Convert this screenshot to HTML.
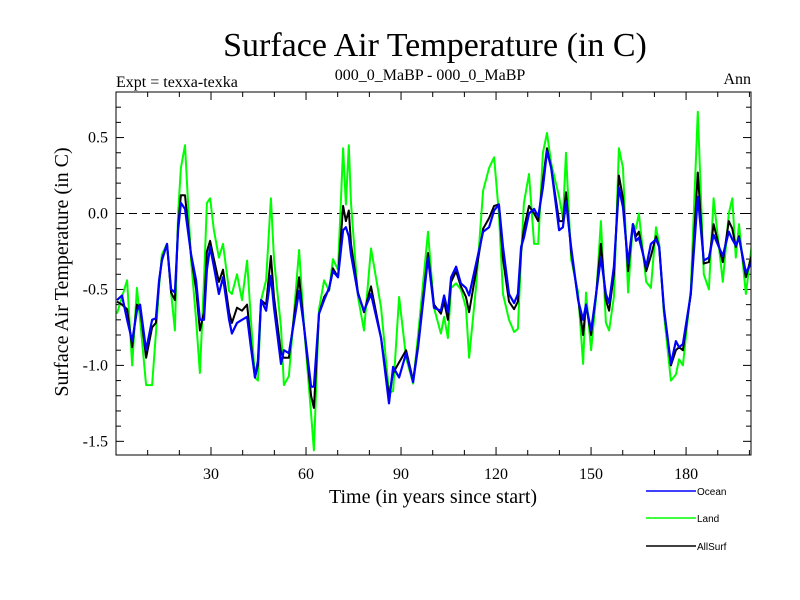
<!DOCTYPE html>
<html><head><meta charset="utf-8"><style>
body{margin:0;background:#fff}
svg{display:block}
text{font-family:"Liberation Serif",serif;fill:#000}
</style></head><body>
<svg id="chart" width="800" height="600" viewBox="0 0 800 600">
<text x="435" y="56" font-size="34" text-anchor="middle">Surface Air Temperature (in C)</text>
<text x="116" y="87" font-size="16">Expt = texxa-texka</text>
<text x="430" y="80" font-size="16" text-anchor="middle">000_0_MaBP - 000_0_MaBP</text>
<text x="751" y="84" font-size="16" text-anchor="end">Ann</text>
<text transform="translate(68,272) rotate(-90)" font-size="20" text-anchor="middle">Surface Air Temperature (in C)</text>
<text x="433" y="503" font-size="20" text-anchor="middle">Time (in years since start)</text>
<g id="axes"></g>
<g id="series"></g>
<rect x="116" y="92" width="635" height="363" fill="none" stroke="#000" stroke-width="1"/>
<g font-family="Liberation Sans" font-size="10">
<line x1="646" y1="491" x2="696" y2="491" stroke="#0000ff" stroke-width="1.5"/>
<text x="697" y="495" style="font-family:'Liberation Sans',sans-serif" font-size="10">Ocean</text>
<line x1="646" y1="518" x2="696" y2="518" stroke="#00ff00" stroke-width="1.5"/>
<text x="697" y="522" style="font-family:'Liberation Sans',sans-serif" font-size="10">Land</text>
<line x1="646" y1="546" x2="696" y2="546" stroke="#000" stroke-width="1.5"/>
<text x="697" y="550" style="font-family:'Liberation Sans',sans-serif" font-size="10">AllSurf</text>
</g>
</svg>
<script>
const years=[0.3,1.9,3.5,5.1,6.6,7.6,9.5,11.4,12.6,13.6,14.5,16.1,17.4,18.6,19.6,20.5,21.8,23.7,25.3,26.5,27.8,28.7,29.7,30.9,32.5,33.8,35.7,36.6,38.2,39.8,41.4,42.6,43.9,44.8,45.8,47.4,48.9,49.9,52.1,53.0,54.6,57.8,59.4,61.6,62.5,64.1,65.7,67.3,68.5,70.1,71.7,72.6,73.5,74.2,76.4,78.3,80.5,83.7,86.2,87.5,89.4,91.6,93.8,95.4,98.5,100.4,102.6,103.6,104.8,105.8,107.4,108.9,110.5,111.5,113.7,115.9,117.8,119.4,120.9,122.2,124.1,125.7,126.9,127.9,128.8,130.4,132,133.3,134.8,136.1,137.4,139.9,141.1,142.1,143.7,145.9,147.5,148.4,150,151.6,153.1,154.7,155.7,157.2,158.8,160.1,161.7,163.2,164.2,165.1,167.4,168.9,170.5,171.5,173,175.2,176.8,177.8,179,181.5,183.7,185.6,187.2,188.7,191.6,193.5,194.6,195.7,196.7,198.9,201];
const ocean=[-0.57,-0.54,-0.70,-0.84,-0.64,-0.6,-0.9,-0.7,-0.69,-0.44,-0.31,-0.2,-0.5,-0.52,-0.11,0.07,0.03,-0.27,-0.44,-0.7,-0.7,-0.37,-0.22,-0.35,-0.53,-0.42,-0.7,-0.79,-0.72,-0.7,-0.68,-0.88,-1.08,-0.97,-0.57,-0.64,-0.41,-0.62,-0.99,-0.9,-0.92,-0.51,-0.75,-1.14,-1.14,-0.66,-0.57,-0.49,-0.38,-0.42,-0.11,-0.09,-0.15,-0.27,-0.53,-0.64,-0.53,-0.82,-1.25,-1.01,-1.08,-0.92,-1.11,-0.88,-0.29,-0.62,-0.64,-0.54,-0.65,-0.42,-0.35,-0.46,-0.49,-0.54,-0.33,-0.12,-0.09,0.02,0.06,-0.22,-0.53,-0.59,-0.53,-0.22,-0.16,0.0,0.03,-0.02,0.17,0.41,0.3,-0.11,-0.09,0.08,-0.22,-0.57,-0.7,-0.6,-0.77,-0.53,-0.29,-0.53,-0.59,-0.35,0.17,0.04,-0.33,-0.07,-0.18,-0.16,-0.35,-0.2,-0.17,-0.22,-0.62,-0.99,-0.84,-0.88,-0.86,-0.53,0.11,-0.31,-0.29,-0.14,-0.28,-0.12,-0.17,-0.21,-0.16,-0.39,-0.31];
const land=[-0.66,-0.55,-0.44,-1.0,-0.49,-0.7,-1.13,-1.13,-0.79,-0.48,-0.27,-0.2,-0.52,-0.77,0.0,0.3,0.45,-0.31,-0.7,-1.05,-0.44,0.07,0.1,-0.11,-0.29,-0.2,-0.51,-0.53,-0.4,-0.57,-0.31,-0.7,-1.08,-1.1,-0.57,-0.44,0.1,-0.3,-0.75,-1.13,-1.07,-0.24,-0.75,-1.32,-1.56,-0.63,-0.44,-0.51,-0.3,-0.37,0.43,0.06,0.45,0.07,-0.55,-0.77,-0.23,-0.62,-1.18,-1.17,-0.55,-0.95,-1.12,-0.8,-0.12,-0.62,-0.79,-0.68,-0.82,-0.49,-0.46,-0.5,-0.62,-0.95,-0.48,0.15,0.3,0.37,0.0,-0.53,-0.7,-0.78,-0.76,-0.28,0.07,0.26,-0.2,-0.2,0.4,0.53,0.33,0.11,-0.03,0.4,-0.3,-0.52,-0.99,-0.52,-0.9,-0.55,-0.05,-0.72,-0.77,-0.55,0.43,0.3,-0.52,-0.07,-0.1,0.0,-0.45,-0.49,-0.09,-0.2,-0.66,-1.1,-1.06,-0.96,-1.0,-0.5,0.67,-0.4,-0.5,0.1,-0.45,0.0,0.1,-0.29,-0.07,-0.53,-0.16];
const allsurf=[-0.58,-0.6,-0.63,-0.88,-0.6,-0.62,-0.95,-0.75,-0.72,-0.45,-0.3,-0.2,-0.52,-0.57,-0.08,0.12,0.12,-0.28,-0.5,-0.77,-0.65,-0.25,-0.18,-0.3,-0.45,-0.37,-0.65,-0.72,-0.62,-0.64,-0.6,-0.85,-1.08,-1.0,-0.57,-0.6,-0.28,-0.55,-0.92,-0.95,-0.95,-0.42,-0.75,-1.2,-1.28,-0.66,-0.55,-0.5,-0.36,-0.42,0.05,-0.05,0.02,-0.2,-0.52,-0.65,-0.48,-0.82,-1.2,-1.05,-0.98,-0.9,-1.1,-0.86,-0.26,-0.6,-0.66,-0.58,-0.7,-0.45,-0.38,-0.48,-0.55,-0.65,-0.38,-0.1,-0.03,0.05,0.06,-0.3,-0.58,-0.63,-0.58,-0.25,-0.1,0.05,0.0,-0.05,0.22,0.43,0.3,-0.05,-0.05,0.14,-0.25,-0.56,-0.8,-0.6,-0.8,-0.53,-0.2,-0.57,-0.64,-0.4,0.25,0.1,-0.38,-0.07,-0.15,-0.12,-0.38,-0.28,-0.15,-0.22,-0.63,-1.0,-0.9,-0.88,-0.9,-0.53,0.27,-0.33,-0.32,-0.07,-0.32,-0.05,-0.1,-0.22,-0.15,-0.42,-0.25];
const xTickLabels=[30,60,90,120,150,180];
const yTickLabels=["0.5","0.0","-0.5","-1.0","-1.5"];
const yTickValues=[0.5,0,-0.5,-1.0,-1.5];

const X0=116,X1=751,Y0=92,Y1=455,XMIN=0,XMAX=200.5,YMIN=-1.59,YMAX=0.8;
const sx=v=>X0+(v-XMIN)/(XMAX-XMIN)*(X1-X0);
const sy=v=>Y1-(v-YMIN)/(YMAX-YMIN)*(Y1-Y0);
const NS="http://www.w3.org/2000/svg";
const axes=document.getElementById('axes'),ser=document.getElementById('series');
function mk(tag,attrs,parent){const e=document.createElementNS(NS,tag);for(const k in attrs)e.setAttribute(k,attrs[k]);parent.appendChild(e);return e;}
// x ticks
for(let t=10;t<XMAX;t+=10){const major=t%30===0;const L=major?8:5;const x=sx(t);
const a=mk('line',{x1:x,x2:x,y1:Y1,y2:Y1-L,stroke:'#000'},axes);


const b=mk('line',{x1:x,x2:x,y1:Y0,y2:Y0+L,stroke:'#000'},axes);

}
xTickLabels.forEach(t=>{const e=mk('text',{x:sx(t),y:Y1+24,'font-size':16,'text-anchor':'middle'},axes);e.textContent=t;

});
// y ticks
for(let i=-15;i<=8;i++){const v=i/10;const major=i%5===0;const L=major?8:5;const y=sy(v);
const a=mk('line',{x1:X0,x2:X0+L,y1:y,y2:y,stroke:'#000'},axes);


const b=mk('line',{x1:X1,x2:X1-L,y1:y,y2:y,stroke:'#000'},axes);

}
yTickValues.forEach((v,i)=>{const e=mk('text',{x:X0-8,y:sy(v)+5,'font-size':16,'text-anchor':'end'},axes);e.textContent=yTickLabels[i];

});
const z=mk('line',{x1:X0,x2:X1,y1:sy(0),y2:sy(0),stroke:'#000','stroke-dasharray':'8,5'},axes);


function line(vals,color,w,name){const d=vals.map((v,i)=>(i?'L':'M')+sx(years[i]).toFixed(1)+','+sy(v).toFixed(1)).join('');
const p=mk('path',{d:d,fill:'none',stroke:color,'stroke-width':w,'stroke-linejoin':'round'},ser);

}
const cp=mk('clipPath',{id:'clip'},ser);mk('rect',{x:X0,y:Y0,width:X1-X0,height:Y1-Y0},cp);
ser.setAttribute('clip-path','url(#clip)');
line(land,'#00ff00',2,'land-line');
line(allsurf,'#000000',2,'allsurf-line');
line(ocean,'#0000ff',2.2,'ocean-line');
</script>
</body></html>
